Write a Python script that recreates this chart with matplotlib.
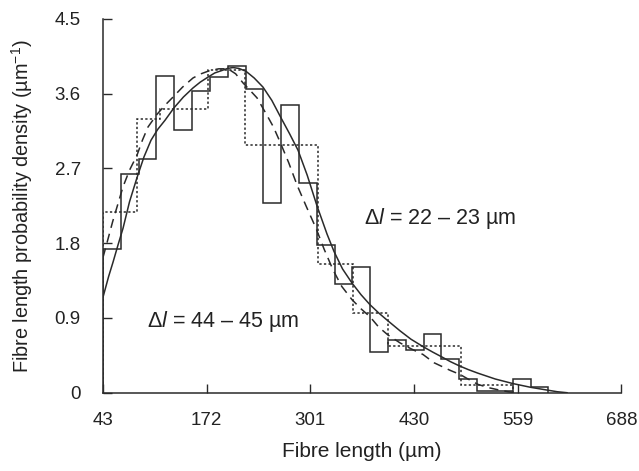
import numpy as np
import matplotlib.pyplot as plt

plt.rcParams['font.family'] = ['Liberation Sans', 'DejaVu Sans']
plt.rcParams['mathtext.fontset'] = 'custom'
plt.rcParams['mathtext.rm'] = 'Liberation Sans'
plt.rcParams['mathtext.it'] = 'Liberation Sans:italic'

# fine histogram, bin width ~22 um, starting at 43 um
fine_start = 43
fine_width = 22.16
fine_heights = [1.73, 2.63, 2.81, 3.81, 3.16, 3.63, 3.80, 3.93, 3.66, 2.28,
                3.46, 2.53, 1.78, 1.31, 1.51, 0.49, 0.63, 0.51, 0.71, 0.41,
                0.16, 0.02, 0.02, 0.17, 0.07]

# coarse histogram, bin width ~44 um (edges)
coarse_edges = [43, 85, 114, 174, 220, 310, 354, 398, 488, 553]
coarse_heights = [2.18, 3.30, 3.42, 3.88, 2.98, 1.55, 0.96, 0.565, 0.088]

# fitted curve for the fine histogram (solid)
fit_fine_x = [43, 50, 55.4, 62, 67.9, 76, 85.3, 94, 102.7, 111, 120.1, 131.3,
              143, 155, 164, 173.6, 182, 191, 198, 204.7, 212, 220.9, 231,
              242, 253, 264.4, 275, 285.6, 297, 309.2, 321.7, 330.4, 341,
              352.8, 364, 375.1, 386, 396.3, 412.5, 426, 441.1, 453, 464.7,
              475, 485.9, 497, 509.5, 531, 553, 575, 596.6, 608, 620.2]
fit_fine_y = [1.15, 1.40, 1.57, 1.79, 1.98, 2.30, 2.59, 2.84, 3.04, 3.17,
              3.28, 3.43, 3.56, 3.67, 3.74, 3.80, 3.85, 3.88, 3.905, 3.915,
              3.905, 3.87, 3.79, 3.68, 3.52, 3.31, 3.12, 2.92, 2.62, 2.25,
              1.91, 1.70, 1.49, 1.32, 1.18, 1.06, 0.96, 0.875, 0.745, 0.645,
              0.555, 0.49, 0.43, 0.375, 0.325, 0.28, 0.235, 0.165, 0.11,
              0.065, 0.03, 0.012, 0.0]

# fitted curve for the coarse histogram (dashed)
fit_coarse_x = [43, 46.7, 55, 67.9, 76, 85.3, 92, 99, 110, 120, 130.1, 142,
                155, 165, 176.1, 187, 198.5, 208, 217.2, 226, 234.6, 247, 255,
                263.2, 274, 284.4, 296, 308, 318, 329.1, 340, 352.8, 364,
                375.1, 386, 397.5, 412.5, 426, 441.1, 455, 474.7, 487.1, 498,
                509.5, 523, 536.9, 548, 558]
fit_coarse_y = [1.63, 1.76, 2.06, 2.48, 2.68, 2.86, 3.04, 3.20, 3.35, 3.46,
                3.56, 3.68, 3.79, 3.84, 3.88, 3.90, 3.90, 3.84, 3.73, 3.64,
                3.55, 3.34, 3.20, 3.02, 2.77, 2.50, 2.24, 1.98, 1.73, 1.48,
                1.28, 1.12, 1.01, 0.915, 0.79, 0.695, 0.60, 0.53, 0.46, 0.36,
                0.27, 0.22, 0.16, 0.10, 0.06, 0.03, 0.01, 0.0]

xticks = [43, 172, 301, 430, 559, 688]
yticks = [0, 0.9, 1.8, 2.7, 3.6, 4.5]

fine_edges = fine_start + fine_width * np.arange(len(fine_heights) + 1)

fig = plt.figure(figsize=(6.39, 4.71), dpi=100)
ax = fig.add_axes([0.1612, 0.1662, 0.8114, 0.7935])

ink = '#2a2a2a'
ax.stairs(fine_heights, fine_edges, baseline=0, fill=False, color=ink, lw=1.1)
ax.stairs(coarse_heights, coarse_edges, baseline=0, fill=False, color=ink,
          lw=1.1, linestyle=(0, (1.5, 1.5)))
ax.plot(fit_fine_x, fit_fine_y, color=ink, lw=1.1, solid_joinstyle='round')
ax.plot(fit_coarse_x, fit_coarse_y, color=ink, lw=1.1, linestyle=(0, (6, 4)))

ax.text(367.7, 2.10, 'Δ$\\mathit{l}$ = 22 – 23 µm', fontsize=15.5,
        va='center', ha='left', color='#222222')
ax.text(97.7, 0.86, 'Δ$\\mathit{l}$ = 44 – 45 µm', fontsize=15.5,
        va='center', ha='left', color='#222222')

ax.set_xlim(43, 688)
ax.set_ylim(0, 4.5)
ax.set_xticks(xticks)
ax.set_xticklabels([str(t) for t in xticks])
ax.set_yticks(yticks)
ax.set_yticklabels(['0', '0.9', '1.8', '2.7', '3.6', '4.5'])
ax.tick_params(direction='in', length=6.5, width=1.0, color=ink,
               labelsize=13.5, labelcolor='#222222')
ax.tick_params(axis='x', pad=14)
ax.tick_params(axis='y', pad=16)

for side in ['top', 'right']:
    ax.spines[side].set_visible(False)
for side in ['left', 'bottom']:
    ax.spines[side].set_color(ink)
    ax.spines[side].set_linewidth(1.1)

ax.set_xlabel('Fibre length (µm)', fontsize=15, color='#222222', labelpad=9)
ax.set_ylabel('Fibre length probability density (µm$^{-1}$)', fontsize=14.3,
              color='#222222', labelpad=14)

fig.savefig('out.png', dpi=100)
